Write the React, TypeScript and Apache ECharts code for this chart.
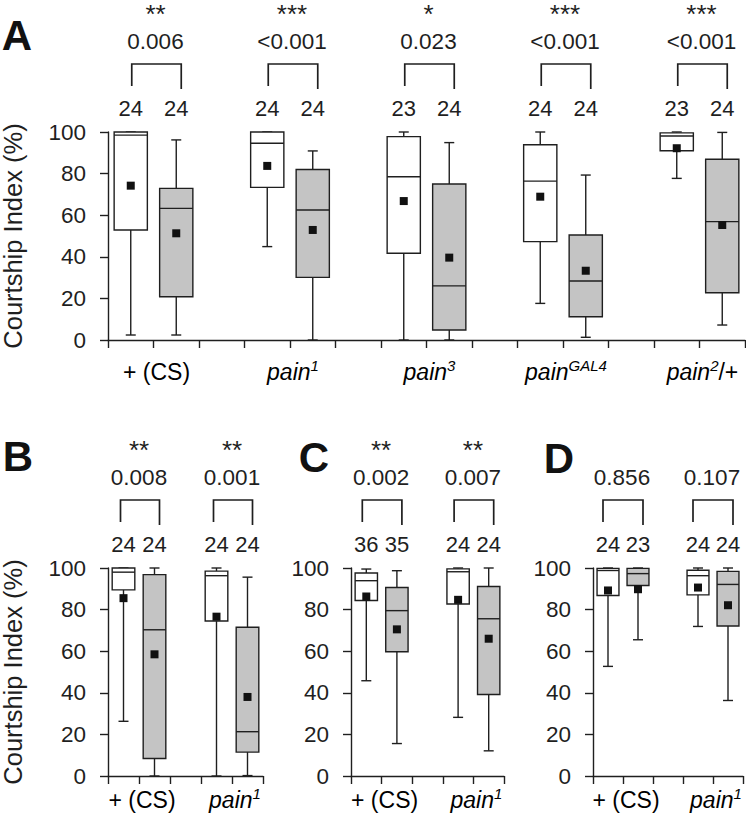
import React, { useEffect, useRef } from 'react';
import * as echarts from 'echarts';

// ---------------- DATA ----------------
// box stats: [min, Q1, median, Q3, max]
const labelsA = ['{n|+ (CS)}', '{i|pain}{s|1}', '{i|pain}{s|3}', '{i|pain}{s|GAL4}', '{i|pain}{s|2}{n|/+}'];
const whiteA = [
  [2.4, 52.9, 98.5, 100, 100],
  [44.9, 73.4, 94.6, 100, 100],
  [0, 41.7, 78.5, 97.8, 100],
  [17.6, 47.3, 76.4, 93.9, 100],
  [77.7, 91.0, 98.1, 99.6, 100],
];
const grayA = [
  [2.4, 20.8, 63.3, 72.9, 96.2],
  [0, 30.1, 62.5, 82.0, 90.9],
  [0, 4.8, 26.0, 75.0, 94.9],
  [1.3, 11.2, 28.4, 50.5, 79.3],
  [7.2, 22.7, 56.9, 86.9, 99.8],
];
const whiteMeanA = [74.2, 83.7, 66.8, 68.9, 92.2];
const grayMeanA = [51.3, 52.9, 39.6, 33.3, 55.3];
const nWhiteA = [24, 24, 23, 24, 23];
const nGrayA = [24, 24, 24, 24, 24];
const pA = ['0.006', '<0.001', '0.023', '<0.001', '<0.001'];
const starsA = ['**', '***', '*', '***', '***'];

const labelsBCD = ['{n|+ (CS)}', '{i|pain}{s|1}'];

const whiteB = [
  [26.3, 89.5, 98.0, 100, 100],
  [0, 74.5, 96.3, 98.5, 100],
];
const grayB = [
  [0, 8.4, 70.3, 96.8, 100],
  [0.2, 11.5, 21.3, 71.5, 95.6],
];
const whiteMeanB = [85.5, 76.6];
const grayMeanB = [58.5, 38.0];
const nWhiteB = [24, 24];
const nGrayB = [24, 24];
const pB = ['0.008', '0.001'];
const starsB = ['**', '**'];

const whiteC = [
  [45.8, 84.4, 93.9, 97.6, 99.5],
  [28.2, 82.7, 98.2, 99.6, 100],
];
const grayC = [
  [15.6, 59.7, 79.5, 90.6, 98.7],
  [12.1, 39.2, 75.6, 91.1, 100],
];
const whiteMeanC = [86.3, 84.7];
const grayMeanC = [70.5, 66.0];
const nWhiteC = [36, 24];
const nGrayC = [35, 24];
const pC = ['0.002', '0.007'];
const starsC = ['**', '**'];

const whiteD = [
  [52.7, 86.8, 98.8, 99.8, 100],
  [71.9, 87.1, 96.3, 98.9, 100],
];
const grayD = [
  [65.5, 91.6, 97.3, 99.8, 100],
  [36.3, 72.1, 92.1, 98.4, 100],
];
const whiteMeanD = [89.2, 90.6];
const grayMeanD = [89.8, 82.1];
const nWhiteD = [24, 24];
const nGrayD = [23, 24];
const pD = ['0.856', '0.107'];
const starsD = ['', ''];

const yTicks = [0, 20, 40, 60, 80, 100];
const yTitle = 'Courtship Index (%)';

// ---------------- STYLE / LAYOUT ----------------
const FONT = '"Liberation Sans", Arial, Helvetica, sans-serif';
const INK = '#1f1f1f';
const FILL_GRAY = '#c4c4c4';
const LW = 1.4;

const panels = [
  { letter: 'A', letterPos: [17, 35], grid: { left: 108, top: 132, width: 637, height: 208 }, slots: 14, stride: 3, title: true, labelOff: 32,
    labels: labelsA, white: whiteA, gray: grayA, wm: whiteMeanA, gm: grayMeanA, nw: nWhiteA, ng: nGrayA, p: pA, stars: starsA, pad: [1, 5] },
  { letter: 'B', letterPos: [18, 456], grid: { left: 108, top: 568, width: 155, height: 208 }, slots: 5, stride: 3, title: true, labelOff: 24,
    labels: labelsBCD, white: whiteB, gray: grayB, wm: whiteMeanB, gm: grayMeanB, nw: nWhiteB, ng: nGrayB, p: pB, stars: starsB, pad: [-3, 5] },
  { letter: 'C', letterPos: [314, 457], grid: { left: 351, top: 568, width: 153, height: 208 }, slots: 5, stride: 3, title: false, labelOff: 24,
    labels: labelsBCD, white: whiteC, gray: grayC, wm: whiteMeanC, gm: grayMeanC, nw: nWhiteC, ng: nGrayC, p: pC, stars: starsC, pad: [-4, 5] },
  { letter: 'D', letterPos: [559, 458], grid: { left: 593, top: 568, width: 150, height: 208 }, slots: 5, stride: 3, title: false, labelOff: 24,
    labels: labelsBCD, white: whiteD, gray: grayD, wm: whiteMeanD, gm: grayMeanD, nw: nWhiteD, ng: nGrayD, p: pD, stars: starsD, pad: [-5, 5] },
];

const lineStyle = { stroke: INK, lineWidth: LW };

function renderBox(params: any, api: any) {
  const cat = api.value(0);
  const mn = api.value(1), q1 = api.value(2), md = api.value(3), q3 = api.value(4), mx = api.value(5);
  const mean = api.value(6);
  const isGray = api.value(7) === 1;
  const band = api.size([1, 0])[0];
  const w = band * 0.73;
  const h = w / 2;
  const pMin = api.coord([cat, mn]);
  const pQ1 = api.coord([cat, q1]);
  const pMd = api.coord([cat, md]);
  const pQ3 = api.coord([cat, q3]);
  const pMx = api.coord([cat, mx]);
  const pMean = api.coord([cat, mean]);
  const x = pMin[0];
  const cap = 5;
  return {
    type: 'group',
    children: [
      { type: 'line', shape: { x1: x, y1: pMx[1], x2: x, y2: pQ3[1] }, style: lineStyle },
      { type: 'line', shape: { x1: x, y1: pQ1[1], x2: x, y2: pMin[1] }, style: lineStyle },
      { type: 'line', shape: { x1: x - cap, y1: pMx[1], x2: x + cap, y2: pMx[1] }, style: lineStyle },
      { type: 'line', shape: { x1: x - cap, y1: pMin[1], x2: x + cap, y2: pMin[1] }, style: lineStyle },
      { type: 'rect', shape: { x: x - h, y: pQ3[1], width: w, height: pQ1[1] - pQ3[1] },
        style: { fill: isGray ? FILL_GRAY : '#ffffff', stroke: INK, lineWidth: LW } },
      { type: 'line', shape: { x1: x - h, y1: pMd[1], x2: x + h, y2: pMd[1] }, style: lineStyle },
      { type: 'rect', shape: { x: x - 4, y: pMean[1] - 4, width: 8, height: 8 }, style: { fill: '#111111' } },
    ],
  };
}

const rich = {
  n: { fontSize: 23, fontFamily: FONT, color: INK, lineHeight: 28 },
  i: { fontSize: 23, fontFamily: FONT, fontStyle: 'italic', color: INK, lineHeight: 28 },
  s: { fontSize: 15, fontFamily: FONT, fontStyle: 'italic', color: INK, lineHeight: 13, verticalAlign: 'top' },
};

function makeAnnot(pn: any) {
  return (params: any, api: any) => {
    const g = params.dataIndex;
    const wc = api.value(0);
    const gc = api.value(2);
    const pw = api.coord([wc, 100]);
    const pg = api.coord([gc, 100]);
    const bottom = api.coord([wc, 0])[1];
    const top = pw[1];
    const xw = pw[0];
    const xg = pg[0];
    const mid = (xw + xg) / 2;
    const bl = xw + pn.pad[0];
    const br = xg + pn.pad[1];
    const bm = (bl + br) / 2;
    const txt = (text: string, x: number, y: number, size: number) => ({
      type: 'text',
      style: { text, x, y, align: 'center', verticalAlign: 'middle', fontSize: size, fontFamily: FONT, fill: INK },
    });
    const children: any[] = [
      txt(String(pn.nw[g]), xw, top - 24, 22),
      txt(String(pn.ng[g]), xg, top - 24, 22),
      {
        type: 'polyline',
        shape: { points: [[bl, top - 46], [bl, top - 68], [br, top - 68], [br, top - 43]] },
        style: { stroke: INK, lineWidth: 1.7, fill: null },
      },
      txt(pn.p[g], bm - 1, top - 91, 22.5),
      {
        type: 'text',
        style: { text: pn.labels[g], x: mid + 3, y: bottom + pn.labelOff, align: 'center', verticalAlign: 'middle', rich },
      },
    ];
    if (pn.stars[g]) children.push(txt(pn.stars[g], bm - 1, top - 118, 26));
    return { type: 'group', children };
  };
}

export default function App() {
  const ref = useRef<HTMLDivElement>(null);
  useEffect(() => {
    if (!ref.current) return;
    const chart = echarts.init(ref.current, null, { renderer: 'svg' });
    const grids: any[] = [];
    const xAxes: any[] = [];
    const yAxes: any[] = [];
    const series: any[] = [];
    const graphics: any[] = [];
    panels.forEach((pn, k) => {
      grids.push({ ...pn.grid, containLabel: false, outerBoundsMode: 'none' });
      xAxes.push({
        type: 'category', gridIndex: k,
        data: Array.from({ length: pn.slots }, (_, i) => String(i)),
        boundaryGap: true,
        axisLine: { lineStyle: { color: INK, width: LW } },
        axisTick: { show: true, interval: 0, length: 8, lineStyle: { color: INK, width: LW } },
        axisLabel: { show: false },
        splitLine: { show: false },
      });
      yAxes.push({
        type: 'value', gridIndex: k, min: yTicks[0], max: yTicks[yTicks.length - 1], interval: 20,
        name: pn.title ? yTitle : '', nameLocation: 'middle', nameGap: 82,
        nameTextStyle: { fontSize: 25.5, fontFamily: FONT, color: INK },
        axisLine: { show: true, lineStyle: { color: INK, width: LW } },
        axisTick: { show: true, length: 8, lineStyle: { color: INK, width: LW } },
        axisLabel: { fontSize: 22.5, fontFamily: FONT, color: INK, margin: 22 },
        splitLine: { show: false },
      });
      const boxData: any[] = [];
      const annData: any[] = [];
      pn.white.forEach((st: number[], g: number) => {
        const wc = pn.stride * g;
        const gc = pn.stride * g + 1;
        boxData.push([wc, ...st, pn.wm[g], 0]);
        boxData.push([gc, ...pn.gray[g], pn.gm[g], 1]);
        annData.push([wc, 100, gc]);
      });
      series.push({
        type: 'custom', xAxisIndex: k, yAxisIndex: k, renderItem: renderBox,
        encode: { x: 0, y: 1 }, data: boxData, clip: false, silent: true,
      });
      series.push({
        type: 'custom', xAxisIndex: k, yAxisIndex: k, renderItem: makeAnnot(pn),
        encode: { x: 0, y: 1 }, data: annData, clip: false, silent: true,
      });
      graphics.push({
        type: 'text', x: pn.letterPos[0], y: pn.letterPos[1],
        style: { text: pn.letter, fontSize: 42, fontWeight: 'bold', fontFamily: FONT, fill: '#111', align: 'center', verticalAlign: 'middle' },
      });
    });
    chart.setOption({
      animation: false,
      backgroundColor: '#ffffff',
      grid: grids,
      xAxis: xAxes,
      yAxis: yAxes,
      series,
      graphic: graphics,
    });
    return () => chart.dispose();
  }, []);
  return <div ref={ref} style={{ position: 'absolute', left: 0, top: 0, width: 746, height: 821 }} />;
}
